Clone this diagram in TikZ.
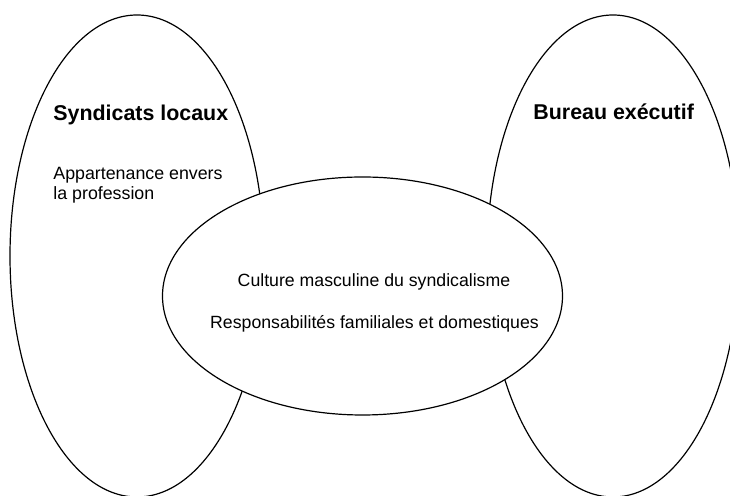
\documentclass[tikz,border=0pt]{standalone}
\usepackage{fontspec}
\setmainfont{Liberation Sans}
\usetikzlibrary{shapes.geometric}
\begin{document}
\begin{tikzpicture}[x=0.5pt,y=-0.5pt,
  blob/.style={ellipse,draw=black,line width=0.6pt,inner sep=0pt,outer sep=0pt},
  title/.style={anchor=base west,inner sep=0pt,font=\fontsize{10.7}{13}\selectfont\bfseries},
  body/.style={anchor=base west,inner sep=0pt,align=left,font=\fontsize{8.9}{10}\selectfont},
  mid/.style={anchor=base,inner sep=0pt,font=\fontsize{8.85}{10}\selectfont}]
\useasboundingbox (0,0) rectangle (730,496);
\clip (0,0) rectangle (730,496);
\node[blob,minimum width=127pt,minimum height=241pt] (left) at (137,256) {};
\node[blob,minimum width=126pt,minimum height=241pt] (right) at (613,256) {};
\node[blob,fill=white,minimum width=200pt,minimum height=119pt] (center) at (362.5,296) {};
\node[title] (t1) at (53,121) {Syndicats locaux};
\node[body] (b1) at (53,180) {Appartenance envers};
\node[body] (b2) at (53,200) {la profession};
\node[title] (t2) at (533,120) {Bureau exécutif};
\node[mid] (c1) at (374,287) {Culture masculine du syndicalisme};
\node[mid] (c2) at (374.5,329) {Responsabilités familiales et domestiques};
\end{tikzpicture}
\end{document}
